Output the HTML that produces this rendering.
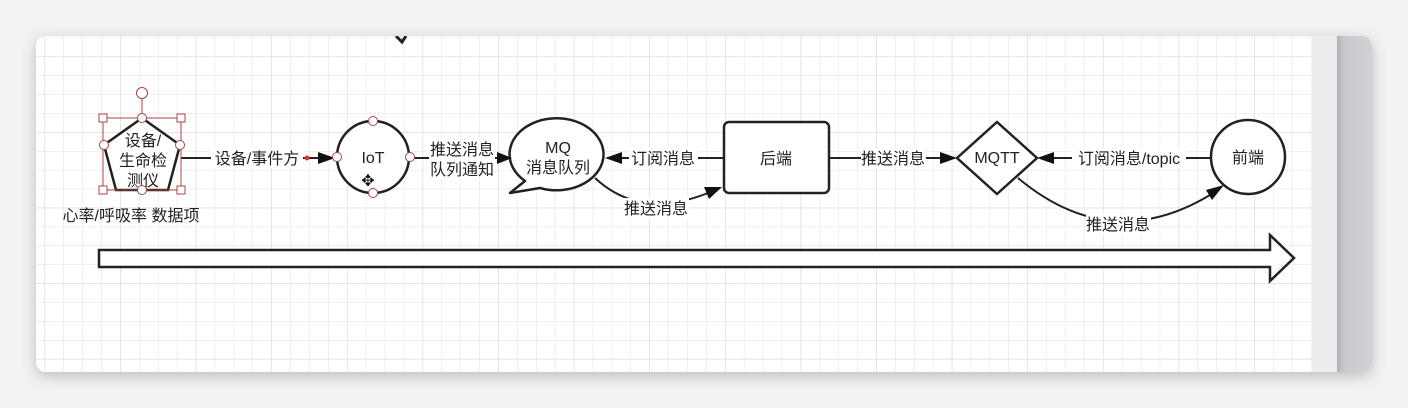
<!DOCTYPE html>
<html><head><meta charset="utf-8"><style>
html,body{margin:0;padding:0;width:1408px;height:408px;overflow:hidden;background:#f2f2f2;}
</style></head><body>
<svg width="1408" height="408" xmlns="http://www.w3.org/2000/svg" font-family="'Liberation Sans','Noto Sans CJK SC',sans-serif">
<defs>
<pattern id="g" x="63.5" y="56.5" width="18.9" height="18.9" patternUnits="userSpaceOnUse">
<path d="M0 0H18.9M0 0V18.9" stroke="#e2e2e2" stroke-width="1" fill="none"/>
</pattern>
<pattern id="G" x="120.2" y="56.5" width="75.6" height="75.6" patternUnits="userSpaceOnUse">
<path d="M0 0H75.6M0 0V75.6" stroke="#d6d6d6" stroke-width="1" fill="none"/>
</pattern>
<filter id="sh" x="-5%" y="-10%" width="110%" height="125%"><feDropShadow dx="0" dy="4" stdDeviation="7" flood-color="#000" flood-opacity="0.22"/></filter>
<linearGradient id="dk" x1="0" x2="1"><stop offset="0" stop-color="#aeaeb2"/><stop offset="0.2" stop-color="#c9c9cd"/><stop offset="1" stop-color="#d2d2d6"/></linearGradient>
<clipPath id="cw"><rect x="36" y="36" width="1336" height="336" rx="10"/></clipPath>
</defs>
<rect x="36" y="36" width="1336" height="336" rx="10" fill="#fff" filter="url(#sh)"/>
<g clip-path="url(#cw)">
<rect x="36" y="36" width="1276" height="336" fill="#fff"/>
<rect x="36" y="36" width="1276" height="336" fill="url(#g)"/>
<rect x="36" y="36" width="1276" height="336" fill="url(#G)"/>
<rect x="1312" y="36" width="25" height="336" fill="#ececec"/>
<rect x="1337" y="36" width="35" height="336" fill="url(#dk)"/>
<path d="M396 36 L402 42 L406 36" stroke="#222" stroke-width="3" fill="none"/>
</g>
<g stroke="#222" stroke-width="2.5" fill="none">
<polygon points="142,118 180,145 168,190 116,190 104,145" fill="#fff"/>
<circle cx="373" cy="157" r="36" fill="#fff"/>
<path d="M525 181 L510 193 L540 188 A47 36 0 1 0 525 181 Z" fill="#fff" stroke-linejoin="round"/>
<rect x="724" y="122" width="105" height="71" rx="5" fill="#fff"/>
<polygon points="997,122 1037,158 997,194 957,158" fill="#fff"/>
<circle cx="1248" cy="157" r="37" fill="#fff"/>
<line x1="181" y1="158" x2="320" y2="158" stroke-width="2"/>
<line x1="410" y1="158" x2="500" y2="158" stroke-width="2"/>
<line x1="724" y1="158" x2="618" y2="158" stroke-width="2"/>
<line x1="829" y1="158" x2="944" y2="158" stroke-width="2"/>
<line x1="1211" y1="158" x2="1052" y2="158" stroke-width="2"/>
<path d="M595 178 Q640 220 708 193" stroke-width="2"/>
<path d="M1018 178 Q1110 255 1210 195" stroke-width="2"/>
<polygon points="99,250 1270,250 1270,235 1294,258 1270,281 1270,267 99,267" fill="#fff"/>
</g>
<g fill="#111">
<polygon points="335,158 318,152 318,164"/>
<polygon points="512,158 497,152 497,164"/>
<polygon points="605,158 622,152 622,164"/>
<polygon points="957,158 940,152 940,164"/>
<polygon points="1037,158 1054,152 1054,164"/>
<polygon points="722,187 704,187 709,199"/>
<polygon points="1224,185 1206,190 1212,200"/>
</g>
<g fill="#fff">
<rect x="211" y="148" width="92" height="20"/>
<rect x="429" y="139" width="66" height="40"/>
<rect x="629" y="148" width="69" height="20"/>
<rect x="624" y="198" width="65" height="20"/>
<rect x="861" y="148" width="65" height="20"/>
<rect x="1072" y="148" width="114" height="20"/>
<rect x="1086" y="214" width="65" height="20"/>
</g>
<circle cx="307" cy="158" r="2.5" fill="#d33"/>
<g font-size="16" fill="#222" text-anchor="middle">
<text x="143" y="146">设备/</text>
<text x="143" y="166">生命检</text>
<text x="143" y="186">测仪</text>
<text x="131" y="221">心率/呼吸率 数据项</text>
<text x="257" y="164">设备/事件方</text>
<text x="373" y="163">IoT</text>
<text x="462" y="155">推送消息</text>
<text x="462" y="175">队列通知</text>
<text x="558" y="153">MQ</text>
<text x="558" y="173">消息队列</text>
<text x="663" y="164">订阅消息</text>
<text x="656" y="214">推送消息</text>
<text x="776" y="164">后端</text>
<text x="893" y="164">推送消息</text>
<text x="997" y="163">MQTT</text>
<text x="1129" y="164">订阅消息/topic</text>
<text x="1118" y="230">推送消息</text>
<text x="1248" y="163">前端</text>
</g>
<g stroke="#a44" stroke-width="1" fill="#fff">
<rect x="103" y="118" width="78" height="72" fill="none"/>
<line x1="142" y1="99" x2="142" y2="118"/>
<circle cx="142" cy="93" r="5.5"/>
<rect x="99" y="114" width="8" height="8"/><rect x="177" y="114" width="8" height="8"/>
<rect x="99" y="186" width="8" height="8"/><rect x="177" y="186" width="8" height="8"/>
<circle cx="142" cy="118" r="4.5"/><circle cx="104" cy="145" r="4.5"/>
<circle cx="180" cy="145" r="4.5"/><circle cx="142" cy="190" r="4.5"/>
<circle cx="373" cy="121" r="4.5"/><circle cx="373" cy="193" r="4.5"/>
<circle cx="337" cy="157" r="4.5"/><circle cx="410" cy="157" r="4.5"/>
</g>
<text x="368" y="186" font-size="16" text-anchor="middle" fill="#111">✥</text>
</svg>
</body></html>
